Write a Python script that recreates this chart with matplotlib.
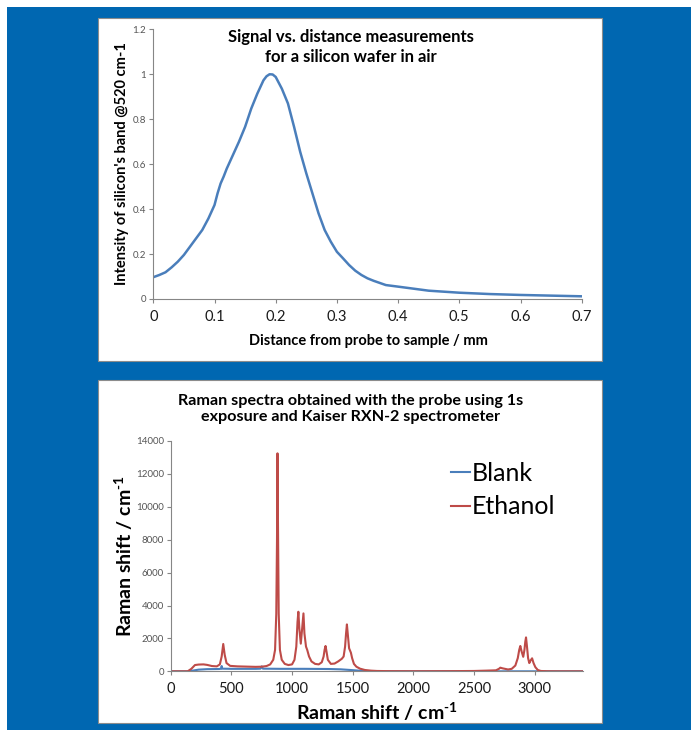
import matplotlib
matplotlib.use("Agg")
import matplotlib.pyplot as plt
from matplotlib.patches import Rectangle

plt.rcParams['font.family'] = ['Lato', 'DejaVu Sans']
plt.rcParams['mathtext.fontset'] = 'custom'
plt.rcParams['mathtext.rm'] = 'Lato:bold'
plt.rcParams['mathtext.bf'] = 'Lato:bold'

# --- data: signal vs. distance (silicon wafer) ---
distance_mm = [0, 0.01, 0.02, 0.03, 0.04, 0.05, 0.06, 0.07, 0.08, 0.09, 0.10, 0.105, 0.11,
               0.115, 0.12, 0.13, 0.14, 0.15, 0.16, 0.17, 0.18, 0.185, 0.19, 0.195,
               0.20, 0.21, 0.22, 0.23, 0.24, 0.25, 0.26, 0.27, 0.28, 0.29, 0.30, 0.31,
               0.32, 0.33, 0.34, 0.35, 0.36, 0.38, 0.40, 0.45, 0.50, 0.55, 0.60, 0.65, 0.70]
intensity = [0.097, 0.107, 0.119, 0.141, 0.166, 0.196, 0.233, 0.27, 0.307, 0.358, 0.418, 0.47, 0.514,
             0.545, 0.58, 0.64, 0.70, 0.766, 0.847, 0.914, 0.973, 0.991, 1.0, 0.999,
             0.988, 0.936, 0.87, 0.766, 0.655, 0.559, 0.47, 0.381, 0.307, 0.255, 0.21, 0.181,
             0.151, 0.126, 0.107, 0.092, 0.081, 0.062, 0.055, 0.037, 0.028, 0.022, 0.018, 0.015, 0.012]

# --- data: Raman spectra ---
blank_shift = [0, 140, 180, 230, 300, 400, 415, 420, 425, 500, 600, 700, 740, 750, 760,
               900, 1100, 1300, 1400, 1480, 1550, 1620, 1700, 3400]
blank_counts = [0, 0, 40, 100, 130, 140, 160, 320, 160, 150, 150, 150, 160, 300, 160,
                150, 150, 140, 120, 80, 40, 10, 0, 0]

ethanol_shift = [0, 100, 140, 170, 200, 230, 270, 300, 340, 380, 405, 420, 433, 445, 460,
                 490, 550, 600, 650, 700, 750, 790, 820, 845, 860, 870, 876, 880, 884,
                 890, 900, 915, 940, 970, 1000, 1020, 1035, 1045, 1052, 1060, 1072, 1082,
                 1094, 1102, 1115, 1125, 1140, 1160, 1190, 1220, 1245, 1260, 1268, 1276,
                 1284, 1295, 1320, 1350, 1380, 1410, 1425, 1437, 1445, 1452, 1460, 1470,
                 1485, 1495, 1510, 1530, 1560, 1600, 1650, 1700, 1800, 2000, 2300, 2500,
                 2600, 2680, 2705, 2716, 2735, 2780, 2810, 2840, 2860, 2872, 2881, 2892,
                 2905, 2915, 2922, 2928, 2936, 2945, 2955, 2965, 2978, 2990, 3005, 3025,
                 3050, 3100, 3200, 3400]
ethanol_counts = [0, 0, 0, 150, 380, 410, 420, 390, 320, 300, 420, 900, 1660, 1000, 500,
                  330, 300, 290, 280, 270, 280, 320, 420, 700, 1300, 3500, 8000, 13250, 9000,
                  3500, 1300, 700, 450, 380, 420, 700, 1500, 3000, 3620, 2600, 1680, 2500,
                  3520, 2300, 1500, 1300, 900, 600, 450, 420, 550, 900, 1300, 1540,
                  1200, 700, 450, 470, 600, 760, 900, 1500, 2300, 2850, 2200, 1400,
                  1130, 800, 450, 280, 160, 80, 40, 20, 10, 5, 10, 20,
                  40, 60, 150, 220, 180, 110, 150, 350, 800, 1300, 1540, 1200,
                  880, 1300, 1800, 2060, 1500, 800, 500, 650, 790, 500, 250, 80,
                  20, 5, 0, 0]

W, H = 692, 730
fig = plt.figure(figsize=(W / 100, H / 100), dpi=100)
fig.patch.set_facecolor('white')


def px_rect(x0, y0, x1, y1, **kw):
    # rectangle given in pixel coords (origin top-left)
    r = Rectangle((x0 / W, 1 - y1 / H), (x1 - x0) / W, (y1 - y0) / H,
                  transform=fig.transFigure, **kw)
    fig.patches.append(r)


px_rect(7, 7, 691, 731, facecolor='#0067b1', edgecolor='none', zorder=0)
px_rect(98, 18, 602, 361, facecolor='white', edgecolor='#8c8c8c', linewidth=0.8, zorder=1)
px_rect(98, 380, 602, 723, facecolor='white', edgecolor='#8c8c8c', linewidth=0.8, zorder=1)


def style_axes(ax):
    for s in ['top', 'right']:
        ax.spines[s].set_visible(False)
    for s in ['left', 'bottom']:
        ax.spines[s].set_color('#868686')
        ax.spines[s].set_linewidth(0.8)
    ax.tick_params(axis='both', direction='out', length=3, width=0.8, color='#868686')
    ax.tick_params(axis='y', labelsize=7, labelcolor='#555555', pad=2)
    ax.tick_params(axis='x', labelsize=10.5, labelcolor='#1a1a1a', pad=5)
    ax.set_facecolor('none')


# --- top chart ---
ax1 = fig.add_axes([153.3 / W, 1 - 299 / H, (581.7 - 153.3) / W, (299 - 29.3) / H])
ax1.set_zorder(2)
ax1.plot(distance_mm, intensity, color='#4a7ebb', linewidth=1.8)
ax1.set_xlim(0, 0.7)
ax1.set_ylim(0, 1.2)
ax1.set_xticks([0, 0.1, 0.2, 0.3, 0.4, 0.5, 0.6, 0.7])
ax1.set_xticklabels(['0', '0.1', '0.2', '0.3', '0.4', '0.5', '0.6', '0.7'])
ax1.set_yticks([0, 0.2, 0.4, 0.6, 0.8, 1.0, 1.2])
ax1.set_yticklabels(['0', '0.2', '0.4', '0.6', '0.8', '1', '1.2'])
style_axes(ax1)

fig.text(350.5 / W, 1 - 47 / H, "Signal vs. distance measurements\nfor a silicon wafer in air",
         ha='center', va='center', fontsize=12, fontweight='bold', linespacing=1.25, zorder=3)
fig.text(121.7 / W, 1 - 164 / H, "Intensity of silicon's band @520 cm-1", rotation=90,
         ha='center', va='center', fontsize=10.5, fontweight='bold', zorder=3)
fig.text(368 / W, 1 - 340.7 / H, "Distance from probe to sample / mm",
         ha='center', va='center', fontsize=10.5, fontweight='bold', zorder=3)

# --- bottom chart ---
ax2 = fig.add_axes([170.7 / W, 1 - 671.3 / H, (583.3 - 170.7) / W, (671.3 - 441) / H])
ax2.set_zorder(2)
ax2.plot(blank_shift, blank_counts, color='#4a7ebb', linewidth=1.5, label='Blank')
ax2.plot(ethanol_shift, ethanol_counts, color='#be4b48', linewidth=1.5, label='Ethanol')
ax2.set_xlim(0, 3400)
ax2.set_ylim(0, 14000)
ax2.set_xticks([0, 500, 1000, 1500, 2000, 2500, 3000])
ax2.set_yticks(range(0, 14001, 2000))
style_axes(ax2)
ax2.legend(loc='upper left', bbox_to_anchor=((451 - 170.7) / (583.3 - 170.7), (671.3 - 462) / (671.3 - 441)),
           frameon=False, fontsize=18, handlelength=0.75, handletextpad=0.1,
           labelspacing=0.42, borderaxespad=0, borderpad=0)

fig.text(350.5 / W, 1 - 409.3 / H,
         "Raman spectra obtained with the probe using 1s\nexposure and Kaiser RXN-2 spectrometer",
         ha='center', va='center', fontsize=11.6, fontweight='bold', linespacing=1.2, zorder=3)
fig.text(123.3 / W, 1 - 556 / H, "Raman shift / cm$^{\\text{-1}}$", rotation=90,
         ha='center', va='center', fontsize=14, fontweight='bold', zorder=3)
fig.text(376.7 / W, 1 - 711.7 / H, "Raman shift / cm$^{\\text{-1}}$",
         ha='center', va='center', fontsize=14, fontweight='bold', zorder=3)

fig.savefig('out.png', dpi=100)
